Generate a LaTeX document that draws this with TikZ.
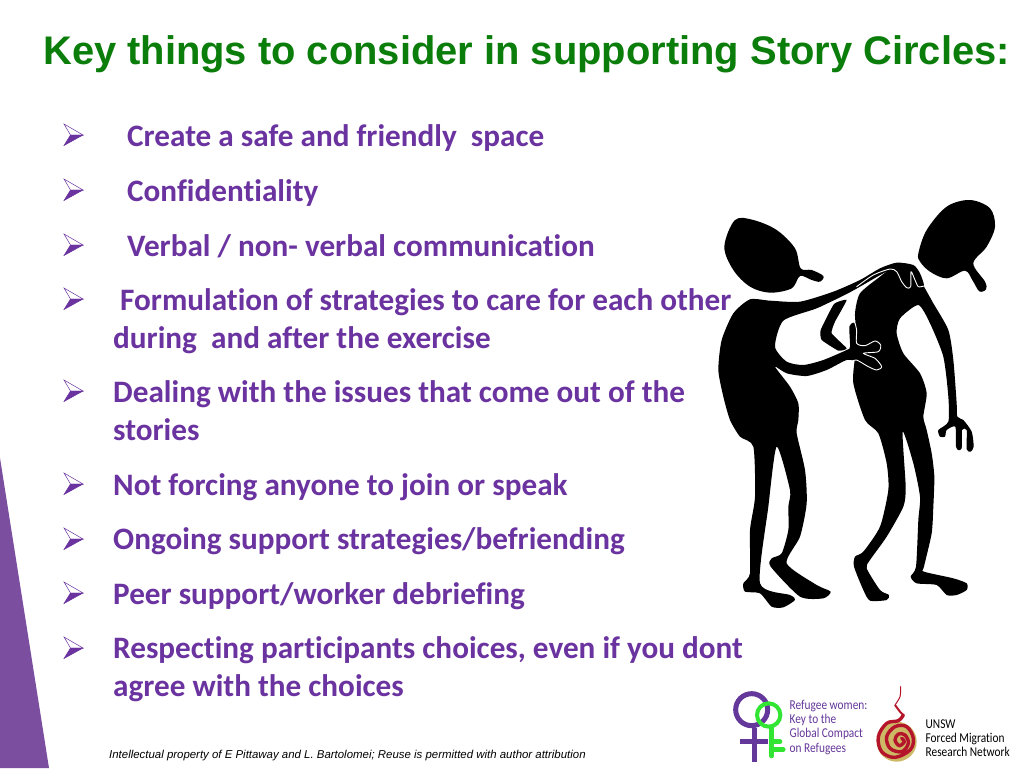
\documentclass[tikz,border=0pt]{standalone}
\usepackage{fontspec}
\setmainfont[Ligatures=NoCommon]{Carlito}
\newfontfamily\arialfont{Liberation Sans}
\definecolor{bodypurple}{HTML}{6A33A0}
\definecolor{bandpurple}{HTML}{7B4EA0}
\definecolor{titlegreen}{HTML}{0A7D0A}
\definecolor{logogreen}{HTML}{33E533}
\definecolor{logopurple}{HTML}{64379A}
\definecolor{logotan}{HTML}{CDB866}
\definecolor{logored}{HTML}{B5152B}
\newcommand{\arrowbullet}[1]{%
  \fill[white,draw=bodypurple,line width=.5pt] (64,#1-11) -- (83,#1) -- (70.5,#1) -- cycle;
  \fill[bodypurple,draw=bodypurple,line width=.5pt] (64,#1+10.5) -- (83,#1) -- (70.5,#1) -- cycle;}
\tikzset{
  item/.style={anchor=base west,inner sep=0pt,text=bodypurple,font=\fontsize{31.2}{34}\selectfont\bfseries},
  sil/.style={fill=black,draw=none},
  whiteline/.style={draw=white,line width=.9pt,line join=round,line cap=round},
  logotxt/.style={anchor=base west,inner sep=0pt,xscale=.84,font=\fontsize{13.5}{15}\selectfont}
}
\begin{document}
\begin{tikzpicture}[x=1pt,y=-1pt]
\useasboundingbox (0,0) rectangle (1024,768);
\fill[white] (0,0) rectangle (1024,768);
\fill[bandpurple] (0,458) -- (49,768) -- (0,768) -- cycle;
\node[anchor=base west,inner sep=0pt,text=titlegreen,font=\arialfont\fontsize{39.9}{42}\selectfont\bfseries] (title) at (43,64.5) {Key things to consider in supporting Story Circles:};
\arrowbullet{135}\arrowbullet{190}\arrowbullet{245}\arrowbullet{299}\arrowbullet{391}\arrowbullet{484}\arrowbullet{539}\arrowbullet{593}\arrowbullet{648}
\node[item] (i1) at (127,146.7) {Create a safe and friendly\ \ space};
\node[item] (i2) at (127,201.7) {Confidentiality};
\node[item] (i3) at (127,256.7) {Verbal / non- verbal communication};
\node[item] (i4) at (120,310.7) {Formulation of strategies to care for each other};
\node[item] (i4b) at (113,348.7) {during\ \ and after the exercise};
\node[item] (i5) at (113,402.7) {Dealing with the issues that come out of the};
\node[item] (i5b) at (113,440.7) {stories};
\node[item] (i6) at (113,495.5) {Not forcing anyone to join or speak};
\node[item] (i7) at (113,549.7) {Ongoing support strategies/befriending};
\node[item] (i8) at (113,604.5) {Peer support/worker debriefing};
\node[item] (i9) at (113,658.7) {Respecting participants choices, even if you dont};
\node[item] (i9b) at (113,696.5) {agree with the choices};
\node[anchor=base west,inner sep=0pt,font=\arialfont\fontsize{11.43}{12}\selectfont\itshape] (foot) at (109,758) {Intellectual property of E Pittaway and L. Bartolomei; Reuse is permitted with author attribution};
\begin{scope}[shift={(700,190)},x=.33333pt,y=-.33333pt]
% right head
\fill[sil] plot[smooth cycle,tension=.55] coordinates {(655,190)(680,120)(740,50)(810,30)(870,55)(885,110)(860,170)(820,220)(855,275)(858,298)(838,304)(818,272)(795,242)(740,265)(690,245)(660,215)};
% left head
\fill[sil] plot[smooth cycle,tension=.55] coordinates {(73,170)(105,90)(160,90)(230,120)(285,175)(302,235)(335,240)(370,258)(360,275)(335,270)(300,258)(275,295)(210,308)(150,290)(100,240)};
% right figure
\fill[sil] plot[smooth cycle,tension=.4] coordinates {(480,310)(540,260)(590,225)(640,235)(672,290)(700,340)(745,420)(760,510)(770,640)(772,680)(790,690)(815,725)(821,770)(812,785)(800,778)(800,720)(786,720)(785,775)(775,780)(768,770)(766,710)(740,720)(735,740)(720,740)(715,720)(745,695)(745,620)(730,500)(690,400)(655,345)(600,385)(590,430)(610,490)(660,550)(680,610)(670,680)(680,720)(695,790)(703,860)(700,950)(695,1030)(672,1130)(672,1145)(760,1165)(800,1180)(800,1200)(770,1215)(740,1215)(710,1185)(650,1180)(632,1160)(648,1130)(655,990)(660,920)(640,820)(608,725)(617,890)(610,950)(560,1040)(510,1110)(500,1135)(540,1200)(567,1215)(560,1230)(510,1232)(490,1200)(462,1130)(465,1100)(490,1085)(540,1010)(565,900)(560,820)(535,730)(495,690)(460,580)(465,500)(470,440)(465,370)};
% right figure's other arm
\fill[sil] plot[smooth cycle,tension=.25] coordinates {(440,330)(402,342)(362,420)(365,450)(415,482)(440,475)(395,430)(405,395)};
% left figure
\fill[sil] plot[smooth cycle,tension=.4] coordinates {(150,328)(210,332)(300,335)(400,305)(480,270)(540,235)(590,218)(640,225)(660,250)(672,290)(640,292)(610,290)(585,248)(560,245)(480,290)(440,312)(350,355)(250,392)(225,470)(260,515)(310,525)(370,510)(440,480)(450,470)(448,410)(460,398)(472,410)(472,460)(500,465)(530,452)(545,470)(540,490)(490,492)(530,505)(548,530)(535,543)(500,530)(470,515)(440,510)(380,540)(320,558)(260,550)(225,530)(270,590)(295,640)(295,690)(290,730)(315,840)(320,940)(300,1040)(260,1120)(350,1185)(392,1205)(370,1225)(300,1220)(212,1130)(215,1105)(245,1090)(265,1020)(265,950)(270,900)(230,770)(205,950)(180,1180)(270,1215)(285,1230)(250,1252)(215,1250)(180,1210)(135,1205)(130,1180)(150,1150)(150,1020)(165,920)(160,770)(120,740)(90,690)(70,620)(55,540)(65,450)(100,370)};
% white contours of the hands
\draw[whiteline] plot[smooth,tension=.45] coordinates {(470,290)(520,255)(570,237)(590,245)(605,275)(620,293)(632,290)(633,245)(645,270)(655,290)(672,288)};
\draw[whiteline] plot[smooth,tension=.45] coordinates {(465,400)(470,420)(470,460)(495,467)(525,453)(542,465)(535,485)(490,490)(525,505)(545,530)(530,540)(505,530)(470,510)(456,514)};
\end{scope}
\begin{scope}[shift={(720,680)},x=.33333pt,y=-.33333pt]
% female symbols
\draw[logopurple,line width=5pt] (95,89) circle[radius=48];
\draw[logopurple,line width=5.5pt] (103,145) -- (103,245) (60,185) -- (145,185);
\draw[logogreen,line width=4pt] (146,105) circle[radius=35];
\draw[logogreen,line width=4.5pt,line cap=round] (155,142) -- (155,228) (155,185) -- (180,185) (155,208) -- (190,208);
% spiral
\fill[logotan] (530,185) circle[radius=60];
\draw[logored,line width=1pt,line cap=round] plot[smooth] coordinates {(542,20)(540,50)(525,75)};
\draw[logored,line width=2pt,line join=round] plot[smooth] coordinates {(525,75)(540,95)(550,105)};
\draw[logored,line width=3.4pt,line join=round,line cap=round] plot[smooth,tension=.6] coordinates {(550,105)(535,122)(500,130)(475,170)(485,215)(525,232)(570,210)(580,175)(560,140)(525,140)(500,170)(510,205)(545,215)(565,190)(555,165)(535,162)(525,180)(538,197)(553,185)(545,175)};
\end{scope}
\node[logotxt,text=logopurple] (r1) at (789.5,709) {Refugee women:};
\node[logotxt,text=logopurple] (r2) at (789.5,723.5) {Key to the};
\node[logotxt,text=logopurple] (r3) at (789.5,737.5) {Global Compact};
\node[logotxt,text=logopurple] (r4) at (789.5,752) {on Refugees};
\node[logotxt] (u1) at (925.5,728) {UNSW};
\node[logotxt] (u2) at (925.5,742.3) {Forced Migration};
\node[logotxt] (u3) at (925.5,756) {Research Network};
\end{tikzpicture}
\end{document}
